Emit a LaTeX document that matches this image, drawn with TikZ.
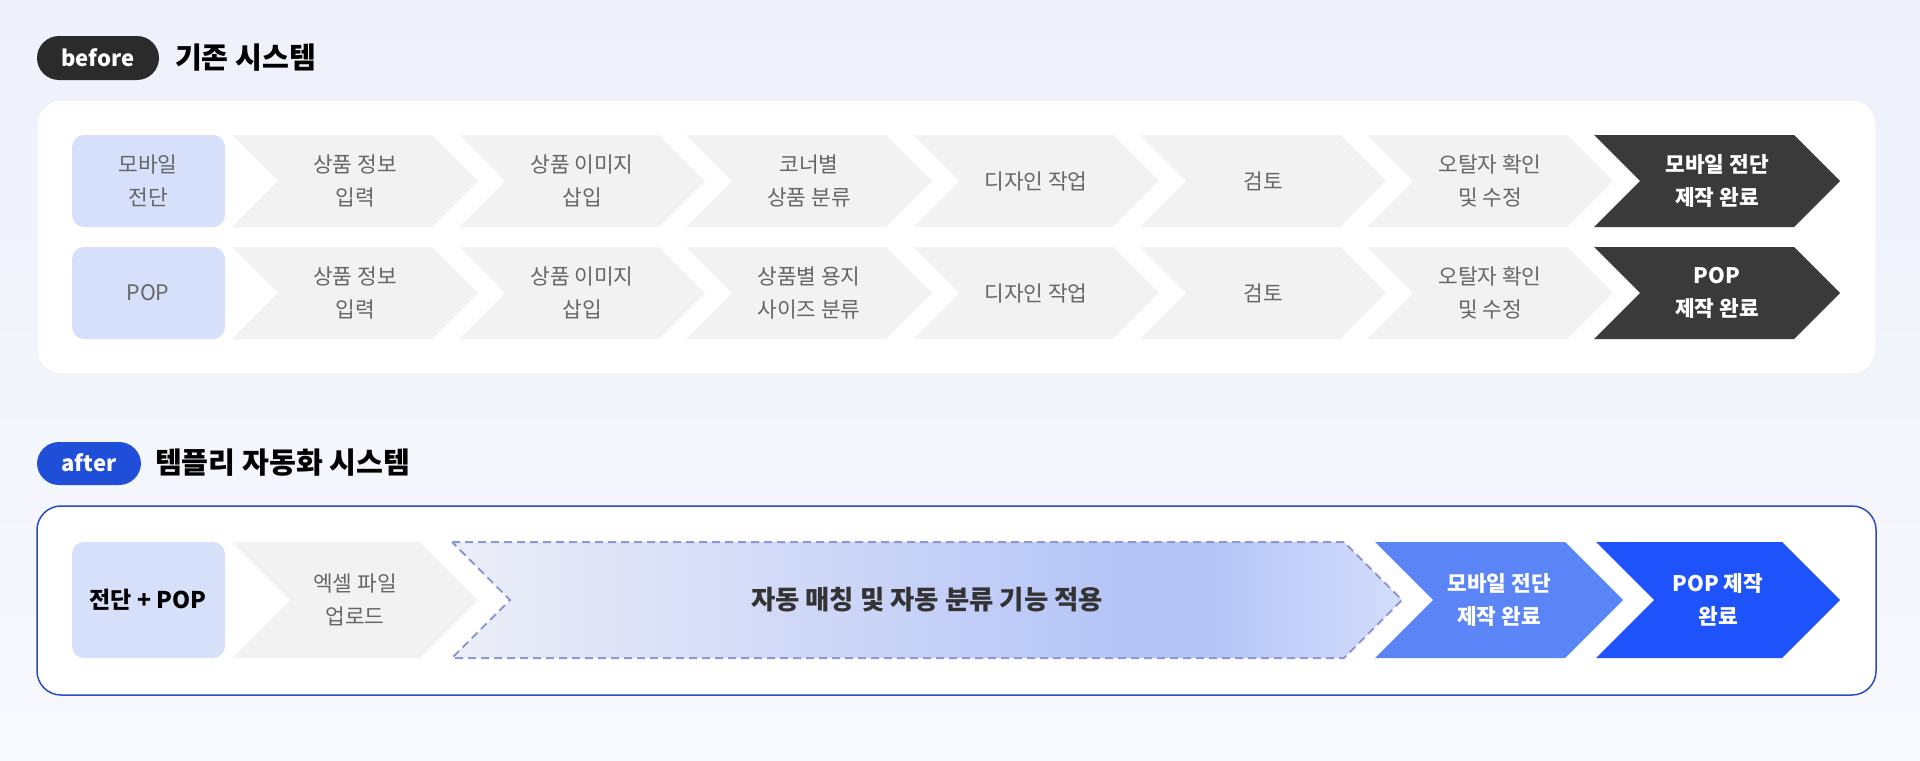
\documentclass[tikz,border=0pt]{standalone}
\usepackage{fontspec}
\setmainfont{Noto Sans CJK KR}
\usetikzlibrary{calc}

\definecolor{bgtop}{HTML}{EEF1FB}
\definecolor{bgbot}{HTML}{F8F9FE}
\definecolor{pilldark}{HTML}{2B2B2B}
\definecolor{pillblue}{HTML}{1F4ED8}
\definecolor{stepgrayfill}{HTML}{F2F2F2}
\definecolor{stepgraytext}{HTML}{666666}
\definecolor{startfill}{HTML}{D7E0FB}
\definecolor{darkstep}{HTML}{3A3A3A}
\definecolor{panelline}{HTML}{2A4CC0}
\definecolor{midblue}{HTML}{5B85F6}
\definecolor{deepblue}{HTML}{1E52FB}
\definecolor{dashline}{HTML}{8C9AD3}
\definecolor{autoA}{HTML}{ECEEF7}
\definecolor{autoB}{HTML}{B6C5F7}
\definecolor{autoC}{HTML}{D3DDFB}

\pgfdeclarehorizontalshading{autoshade}{100bp}{color(0bp)=(autoA); color(25bp)=(autoA);
  color(60bp)=(autoB); color(65bp)=(autoB); color(75bp)=(autoC); color(100bp)=(autoC)}

% chevron: left x, top y, width, height, style
\newcommand{\chev}[5]{%
  \path[#5] (#1,#2) -- ({#1+#3-#4/2},#2) -- ({#1+#3},{#2+#4/2})
    -- ({#1+#3-#4/2},{#2+#4}) -- (#1,{#2+#4}) -- ({#1+#4/2},{#2+#4/2}) -- cycle;}

\tikzset{
  steptext/.style={align=center, text=stepgraytext, font=\fontsize{10.7}{16.5}\selectfont},
  donetext/.style={align=center, text=white, font=\fontsize{10.7}{16.5}\selectfont\bfseries},
  pilltext/.style={text=white, font=\fontsize{11}{13}\selectfont\bfseries},
  titletext/.style={anchor=west, text=black, font=\fontsize{14.6}{16}\selectfont\bfseries},
}

\begin{document}
\begin{tikzpicture}[x=0.5pt, y=-0.5pt]
\useasboundingbox (0,0) rectangle (1920,760);
\fill[top color=bgtop, bottom color=bgbot] (0,0) rectangle (1920,760);

% before : titre
\fill[pilldark, rounded corners=11pt] (37,36) rectangle (159,80);
\node[pilltext] (beforetag) at (98,58) {before};
\node[titletext] (beforetitle) at (168,58) {기존 시스템};

% panneau du haut
\fill[white, draw=black!6, line width=0.5pt, rounded corners=12pt] (37,100) rectangle (1876,374);

% ligne 1 : mobile
\fill[startfill, rounded corners=6pt] (72,135) rectangle (225,227);
\node[steptext] (mobstart) at (148,181) {모바일\\전단};
\chev{232}{135}{246}{92}{fill=stepgrayfill}
\node[steptext] (mobinfo) at (355,181) {상품 정보\\입력};
\chev{459}{135}{246}{92}{fill=stepgrayfill}
\node[steptext] (mobimg) at (582,181) {상품 이미지\\삽입};
\chev{686}{135}{246}{92}{fill=stepgrayfill}
\node[steptext] (mobsort) at (809,181) {코너별\\상품 분류};
\chev{913}{135}{246}{92}{fill=stepgrayfill}
\node[steptext] (mobdesign) at (1036,181) {디자인 작업};
\chev{1140}{135}{246}{92}{fill=stepgrayfill}
\node[steptext] (mobreview) at (1263,181) {검토};
\chev{1367}{135}{246}{92}{fill=stepgrayfill}
\node[steptext] (mobfix) at (1490,181) {오탈자 확인\\및 수정};
\chev{1594}{135}{246}{92}{fill=darkstep}
\node[donetext] (mobdone) at (1717,181) {모바일 전단\\제작 완료};

% ligne 2 : POP
\fill[startfill, rounded corners=6pt] (72,247) rectangle (225,339);
\node[steptext] (popstart) at (148,293) {POP};
\chev{232}{247}{246}{92}{fill=stepgrayfill}
\node[steptext] (popinfo) at (355,293) {상품 정보\\입력};
\chev{459}{247}{246}{92}{fill=stepgrayfill}
\node[steptext] (popimg) at (582,293) {상품 이미지\\삽입};
\chev{686}{247}{246}{92}{fill=stepgrayfill}
\node[steptext] (popsort) at (809,293) {상품별 용지\\사이즈 분류};
\chev{913}{247}{246}{92}{fill=stepgrayfill}
\node[steptext] (popdesign) at (1036,293) {디자인 작업};
\chev{1140}{247}{246}{92}{fill=stepgrayfill}
\node[steptext] (popreview) at (1263,293) {검토};
\chev{1367}{247}{246}{92}{fill=stepgrayfill}
\node[steptext] (popfix) at (1490,293) {오탈자 확인\\및 수정};
\chev{1594}{247}{246}{92}{fill=darkstep}
\node[donetext] (popdone) at (1717,293) {POP\\제작 완료};

% after : titre
\fill[pillblue, rounded corners=11pt] (37,442) rectangle (141,485);
\node[pilltext] (aftertag) at (89,463) {after};
\node[titletext] (aftertitle) at (148,463) {템플리 자동화 시스템};

% panneau du bas
\fill[white, draw=panelline, line width=0.75pt, rounded corners=12pt] (37,506) rectangle (1876,695);

\fill[startfill, rounded corners=6pt] (72,542) rectangle (225,658);
\node[steptext, text=black, font=\fontsize{11.5}{17}\selectfont\bfseries] (newstart) at (148,600) {전단 + POP};
\chev{232}{542}{246}{116}{fill=stepgrayfill}
\node[steptext] (upload) at (355,600) {엑셀 파일\\업로드};
\chev{452}{542}{950}{116}{shading=autoshade, draw=dashline, line width=1pt, dash pattern=on 4pt off 2.5pt}
\node[text=black!80, font=\fontsize{13.2}{15}\selectfont\bfseries] (automatch) at (927,600) {자동 매칭 및 자동 분류 기능 적용};
\chev{1375}{542}{248}{116}{fill=midblue}
\node[donetext] (newmob) at (1499,600) {모바일 전단\\제작 완료};
\chev{1596}{542}{244}{116}{fill=deepblue}
\node[donetext] (newpop) at (1718,600) {POP 제작\\완료};

\end{tikzpicture}
\end{document}
